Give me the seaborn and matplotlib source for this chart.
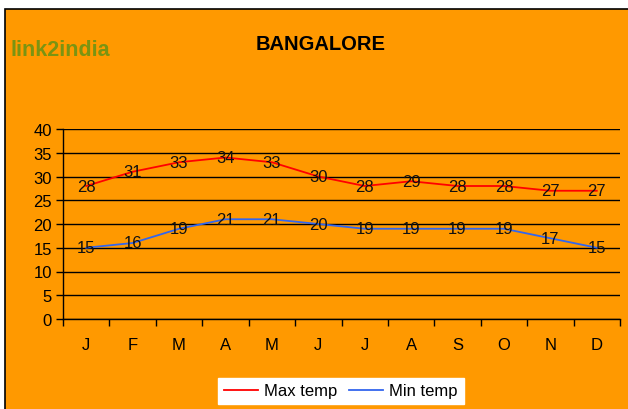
import matplotlib
matplotlib.use("Agg")
import matplotlib.pyplot as plt
from matplotlib.patches import Rectangle
from matplotlib.ticker import MultipleLocator, FixedLocator
import seaborn as sns
import pandas as pd

months = ["J", "F", "M", "A", "M", "J", "J", "A", "S", "O", "N", "D"]
max_temp = [28, 31, 33, 34, 33, 30, 28, 29, 28, 28, 27, 27]
min_temp = [15, 16, 19, 21, 21, 20, 19, 19, 19, 19, 17, 15]
series_names = ["Max temp", "Min temp"]
colors = ["#ff0000", "#3366ee"]
orange = "#ff9900"

plt.rcParams["font.family"] = ["Liberation Sans", "DejaVu Sans"]

df = pd.DataFrame({
    "idx": list(range(len(months))) * 2,
    "temp": max_temp + min_temp,
    "series": [series_names[0]] * len(months) + [series_names[1]] * len(months),
})

fig = plt.figure(figsize=(6.28, 4.10), dpi=100, facecolor="white")
fig.patches.append(Rectangle((5 / 628, -0.01), 1.0, 1 - 10 / 410 + 0.01,
                             transform=fig.transFigure, facecolor=orange,
                             edgecolor="black", linewidth=1.2, zorder=-1))

ax = fig.add_axes([63 / 628, 1 - 320 / 410, 557 / 628, 190 / 410])
ax.set_facecolor(orange)

sns.lineplot(data=df, x="idx", y="temp", hue="series", palette=colors,
             linewidth=1.3, ax=ax, legend=False)

for vals in (max_temp, min_temp):
    for i, v in enumerate(vals):
        ax.text(i, v, str(v), ha="center", va="center", fontsize=12, color="#111111")

ax.set_xlim(-0.5, len(months) - 0.5)
ax.set_ylim(0, 40)
ax.yaxis.set_major_locator(MultipleLocator(5))
ax.set_xticks(range(len(months)))
ax.set_xticklabels(months)
ax.xaxis.set_minor_locator(FixedLocator([i - 0.5 for i in range(len(months) + 1)]))
ax.tick_params(axis="x", which="major", length=0, pad=13, labelsize=12)
ax.tick_params(axis="x", which="minor", length=5, width=1, direction="out")
ax.tick_params(axis="y", length=5, width=1, direction="out", labelsize=12, pad=3)
ax.grid(axis="y", color="black", linewidth=1)
ax.set_axisbelow(True)
for s in ["top", "right"]:
    ax.spines[s].set_visible(False)
ax.spines["left"].set_linewidth(1)
ax.spines["bottom"].set_linewidth(1)
ax.set_xlabel("")
ax.set_ylabel("")

fig.text(321 / 628, 1 - 44 / 410, "BANGALORE", ha="center", va="center",
         fontsize=14.5, fontweight="bold")
fig.text(10 / 628, 1 - 50 / 410, "link2india", ha="left", va="center",
         fontsize=15.5, fontweight="bold", color="#7a9412")

handles = [plt.Line2D([], [], color=c, linewidth=1.3) for c in colors]
leg = fig.legend(handles, series_names, loc="center", ncol=2,
                 bbox_to_anchor=(341 / 628, 1 - 392 / 410), frameon=True,
                 fancybox=False, framealpha=1, edgecolor="white",
                 fontsize=12, handlelength=2.0, handletextpad=0.4,
                 columnspacing=0.7, borderpad=0.35, borderaxespad=0.2)

fig.savefig("out.png", dpi=100, facecolor=fig.get_facecolor())
